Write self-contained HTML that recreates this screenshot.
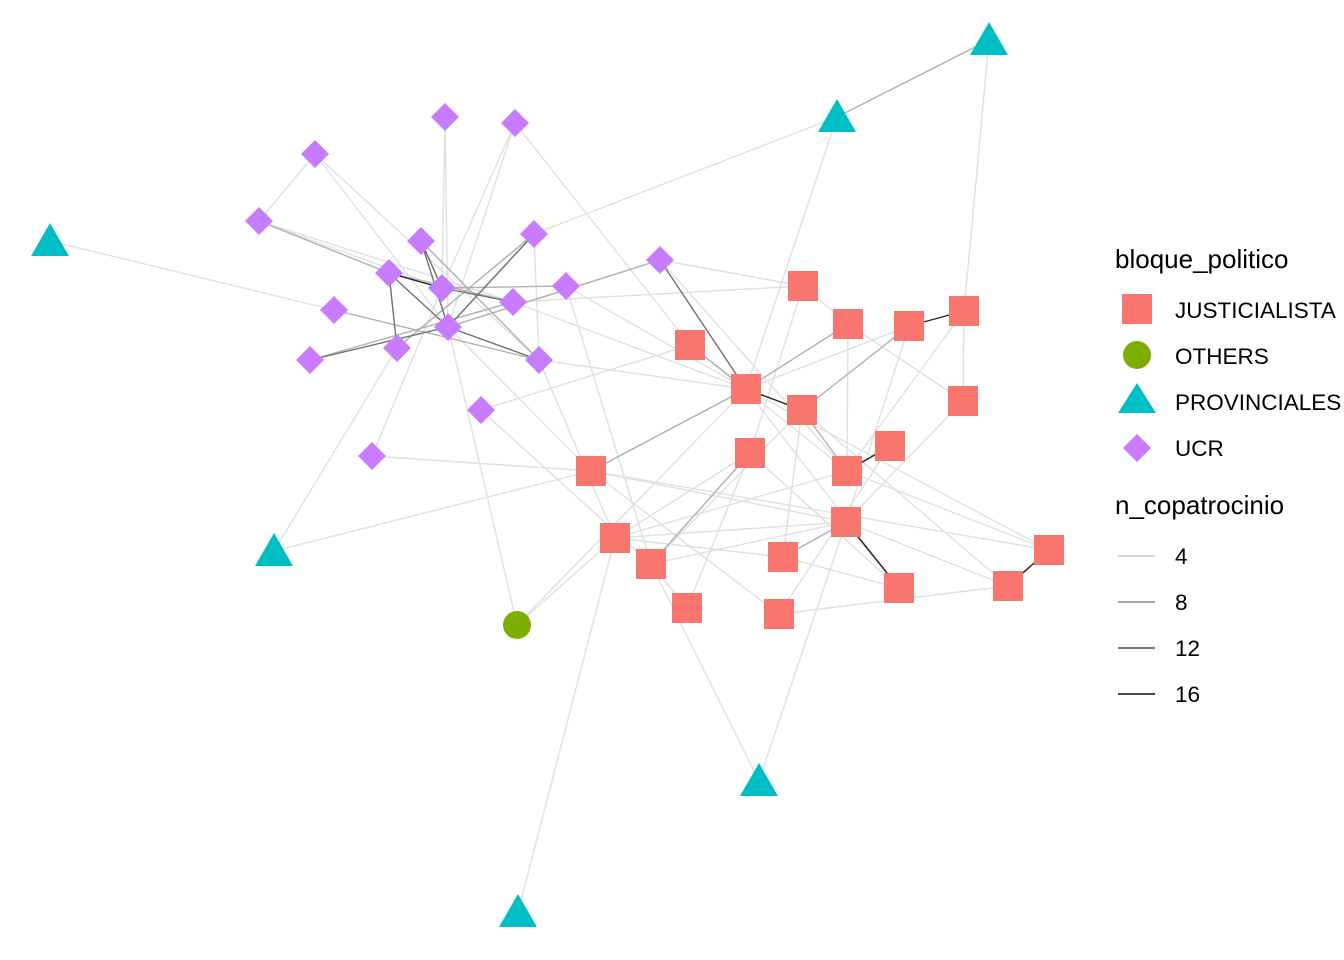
<!DOCTYPE html>
<html><head><meta charset="utf-8"><style>
body{margin:0;background:#fff;}
svg{display:block;font-family:"Liberation Sans",Arial,sans-serif;}
</style></head><body>
<svg width="1344" height="960" viewBox="0 0 1344 960" xmlns="http://www.w3.org/2000/svg">
<g stroke-linecap="round" fill="none">
<g stroke="#e0e0e0" stroke-width="1.4">
<line x1="50" y1="241" x2="334" y2="310"/>
<line x1="274" y1="551" x2="591" y2="471"/>
<line x1="274" y1="551" x2="397" y2="348"/>
<line x1="518" y1="912" x2="615" y2="538"/>
<line x1="759" y1="781" x2="651" y2="564"/>
<line x1="759" y1="781" x2="846" y2="522"/>
<line x1="837" y1="117" x2="534" y2="234"/>
<line x1="837" y1="117" x2="746" y2="389"/>
<line x1="989" y1="40" x2="964" y2="311"/>
<line x1="517" y1="625" x2="448" y2="327"/>
<line x1="517" y1="625" x2="615" y2="538"/>
<line x1="517" y1="625" x2="746" y2="389"/>
<line x1="445" y1="117" x2="442" y2="288"/>
<line x1="445" y1="117" x2="448" y2="327"/>
<line x1="515" y1="123" x2="448" y2="327"/>
<line x1="515" y1="123" x2="442" y2="288"/>
<line x1="515" y1="123" x2="690" y2="345"/>
<line x1="315" y1="154" x2="259" y2="221"/>
<line x1="315" y1="154" x2="539" y2="360"/>
<line x1="315" y1="154" x2="448" y2="327"/>
<line x1="259" y1="221" x2="513" y2="302"/>
<line x1="259" y1="221" x2="442" y2="288"/>
<line x1="534" y1="234" x2="539" y2="360"/>
<line x1="534" y1="234" x2="397" y2="348"/>
<line x1="660" y1="260" x2="803" y2="286"/>
<line x1="660" y1="260" x2="847" y2="471"/>
<line x1="660" y1="260" x2="448" y2="327"/>
<line x1="566" y1="286" x2="746" y2="389"/>
<line x1="566" y1="286" x2="651" y2="564"/>
<line x1="539" y1="360" x2="615" y2="538"/>
<line x1="539" y1="360" x2="746" y2="389"/>
<line x1="481" y1="410" x2="690" y2="345"/>
<line x1="481" y1="410" x2="651" y2="564"/>
<line x1="372" y1="456" x2="591" y2="471"/>
<line x1="372" y1="456" x2="442" y2="288"/>
<line x1="448" y1="327" x2="591" y2="471"/>
<line x1="513" y1="302" x2="803" y2="286"/>
<line x1="513" y1="302" x2="746" y2="389"/>
<line x1="803" y1="286" x2="848" y2="324"/>
<line x1="803" y1="286" x2="750" y2="453"/>
<line x1="848" y1="324" x2="847" y2="471"/>
<line x1="848" y1="324" x2="963" y2="401"/>
<line x1="909" y1="326" x2="746" y2="389"/>
<line x1="909" y1="326" x2="846" y2="522"/>
<line x1="964" y1="311" x2="963" y2="401"/>
<line x1="964" y1="311" x2="847" y2="471"/>
<line x1="690" y1="345" x2="847" y2="471"/>
<line x1="746" y1="389" x2="591" y2="471"/>
<line x1="746" y1="389" x2="899" y2="588"/>
<line x1="746" y1="389" x2="1049" y2="550"/>
<line x1="802" y1="410" x2="651" y2="564"/>
<line x1="802" y1="410" x2="1008" y2="586"/>
<line x1="963" y1="401" x2="846" y2="522"/>
<line x1="750" y1="453" x2="615" y2="538"/>
<line x1="750" y1="453" x2="687" y2="608"/>
<line x1="750" y1="453" x2="899" y2="588"/>
<line x1="890" y1="446" x2="779" y2="614"/>
<line x1="847" y1="471" x2="1049" y2="550"/>
<line x1="847" y1="471" x2="615" y2="538"/>
<line x1="591" y1="471" x2="846" y2="522"/>
<line x1="591" y1="471" x2="779" y2="614"/>
<line x1="846" y1="522" x2="651" y2="564"/>
<line x1="846" y1="522" x2="1008" y2="586"/>
<line x1="615" y1="538" x2="783" y2="557"/>
<line x1="651" y1="564" x2="687" y2="608"/>
<line x1="783" y1="557" x2="899" y2="588"/>
<line x1="779" y1="614" x2="1008" y2="586"/>
<line x1="615" y1="538" x2="846" y2="522"/>
<line x1="783" y1="557" x2="802" y2="410"/>
<line x1="591" y1="471" x2="1049" y2="550"/>
</g>
<g stroke="#b0b0b0" stroke-width="1.4">
<line x1="837" y1="117" x2="989" y2="40"/>
<line x1="389" y1="273" x2="513" y2="302"/>
<line x1="334" y1="310" x2="539" y2="360"/>
<line x1="259" y1="221" x2="389" y2="273"/>
<line x1="421" y1="241" x2="539" y2="360"/>
<line x1="442" y1="288" x2="566" y2="286"/>
<line x1="397" y1="348" x2="534" y2="234"/>
<line x1="310" y1="360" x2="513" y2="302"/>
<line x1="448" y1="327" x2="660" y2="260"/>
<line x1="690" y1="345" x2="746" y2="389"/>
<line x1="746" y1="389" x2="848" y2="324"/>
<line x1="802" y1="410" x2="847" y2="471"/>
<line x1="651" y1="564" x2="750" y2="453"/>
<line x1="591" y1="471" x2="746" y2="389"/>
<line x1="783" y1="557" x2="846" y2="522"/>
<line x1="909" y1="326" x2="802" y2="410"/>
</g>
<g stroke="#707070" stroke-width="1.4">
<line x1="389" y1="273" x2="448" y2="327"/>
<line x1="421" y1="241" x2="448" y2="327"/>
<line x1="310" y1="360" x2="448" y2="327"/>
<line x1="442" y1="288" x2="513" y2="302"/>
<line x1="389" y1="273" x2="397" y2="348"/>
<line x1="421" y1="241" x2="442" y2="288"/>
<line x1="448" y1="327" x2="534" y2="234"/>
<line x1="660" y1="260" x2="746" y2="389"/>
<line x1="448" y1="327" x2="539" y2="360"/>
</g>
<g stroke="#222" stroke-width="1.4">
<line x1="746" y1="389" x2="802" y2="410"/>
<line x1="909" y1="326" x2="964" y2="311"/>
<line x1="847" y1="471" x2="890" y2="446"/>
<line x1="846" y1="522" x2="899" y2="588"/>
<line x1="1008" y1="586" x2="1049" y2="550"/>
<line x1="389" y1="273" x2="442" y2="288"/>
</g>
</g>
<g fill="#00BFC4">
<polygon points="989,22 1008,55 970,55"/>
<polygon points="837,99 856,132 818,132"/>
<polygon points="50,223 69,256 31,256"/>
<polygon points="274,533 293,566 255,566"/>
<polygon points="759,763 778,796 740,796"/>
<polygon points="518,894 537,927 499,927"/>
</g>
<circle cx="517" cy="625" r="14" fill="#7CAE00"/>
<g fill="#F8766D">
<rect x="788" y="271" width="30" height="30"/>
<rect x="833" y="309" width="30" height="30"/>
<rect x="894" y="311" width="30" height="30"/>
<rect x="949" y="296" width="30" height="30"/>
<rect x="675" y="330" width="30" height="30"/>
<rect x="731" y="374" width="30" height="30"/>
<rect x="787" y="395" width="30" height="30"/>
<rect x="948" y="386" width="30" height="30"/>
<rect x="735" y="438" width="30" height="30"/>
<rect x="875" y="431" width="30" height="30"/>
<rect x="832" y="456" width="30" height="30"/>
<rect x="576" y="456" width="30" height="30"/>
<rect x="831" y="507" width="30" height="30"/>
<rect x="600" y="523" width="30" height="30"/>
<rect x="636" y="549" width="30" height="30"/>
<rect x="768" y="542" width="30" height="30"/>
<rect x="1034" y="535" width="30" height="30"/>
<rect x="672" y="593" width="30" height="30"/>
<rect x="764" y="599" width="30" height="30"/>
<rect x="884" y="573" width="30" height="30"/>
<rect x="993" y="571" width="30" height="30"/>
</g>
<g fill="#C77CFF">
<path d="M445,103l14,14l-14,14l-14,-14z"/>
<path d="M515,109l14,14l-14,14l-14,-14z"/>
<path d="M315,140l14,14l-14,14l-14,-14z"/>
<path d="M259,207l14,14l-14,14l-14,-14z"/>
<path d="M421,227l14,14l-14,14l-14,-14z"/>
<path d="M534,220l14,14l-14,14l-14,-14z"/>
<path d="M389,259l14,14l-14,14l-14,-14z"/>
<path d="M442,274l14,14l-14,14l-14,-14z"/>
<path d="M660,246l14,14l-14,14l-14,-14z"/>
<path d="M566,272l14,14l-14,14l-14,-14z"/>
<path d="M334,296l14,14l-14,14l-14,-14z"/>
<path d="M513,288l14,14l-14,14l-14,-14z"/>
<path d="M448,313l14,14l-14,14l-14,-14z"/>
<path d="M310,346l14,14l-14,14l-14,-14z"/>
<path d="M397,334l14,14l-14,14l-14,-14z"/>
<path d="M539,346l14,14l-14,14l-14,-14z"/>
<path d="M481,396l14,14l-14,14l-14,-14z"/>
<path d="M372,442l14,14l-14,14l-14,-14z"/>
</g>
<g font-size="26" fill="#000">
<text x="1115" y="268">bloque_politico</text>
<text x="1115" y="514">n_copatrocinio</text>
</g>
<g font-size="22.5" fill="#000">
<text x="1175" y="318">JUSTICIALISTA</text>
<text x="1175" y="364">OTHERS</text>
<text x="1175" y="410">PROVINCIALES</text>
<text x="1175" y="456">UCR</text>
<text x="1175" y="564">4</text>
<text x="1175" y="610">8</text>
<text x="1175" y="656">12</text>
<text x="1175" y="702">16</text>
</g>
<rect x="1122" y="294" width="30" height="30" fill="#F8766D"/>
<circle cx="1137" cy="355" r="14" fill="#7CAE00"/>
<polygon points="1137,383 1156,413 1118,413" fill="#00BFC4"/>
<path d="M1137,434l14,14l-14,14l-14,-14z" fill="#C77CFF"/>
<g stroke-width="1.6">
<line x1="1118" y1="556" x2="1155" y2="556" stroke="#c8c8c8"/>
<line x1="1118" y1="602" x2="1155" y2="602" stroke="#8c8c8c"/>
<line x1="1118" y1="648" x2="1155" y2="648" stroke="#4a4a4a"/>
<line x1="1118" y1="694" x2="1155" y2="694" stroke="#111"/>
</g>
</svg>
</body></html>
